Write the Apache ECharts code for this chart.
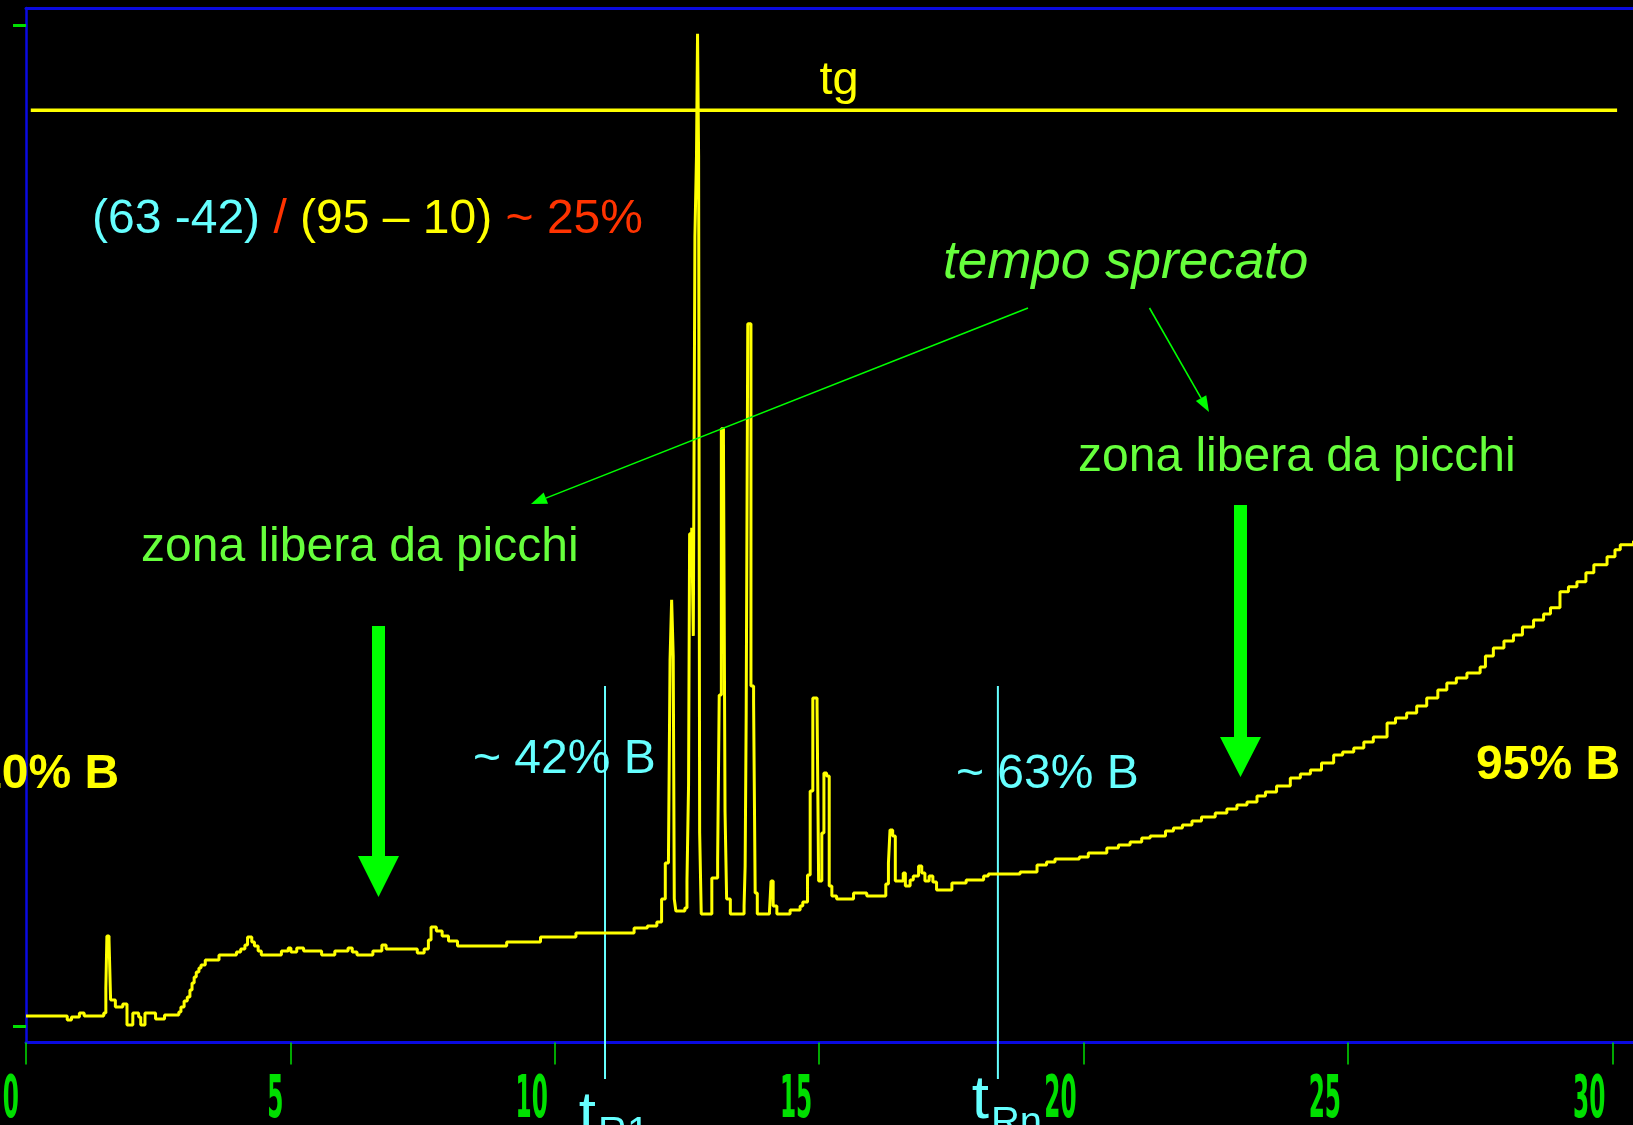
<!DOCTYPE html>
<html>
<head>
<meta charset="utf-8">
<script src="https://cdn.jsdelivr.net/npm/echarts@6.0.0/dist/echarts.min.js"></script>
<style>
  html, body { margin: 0; padding: 0; background: #000; }
  #chart { width: 1633px; height: 1125px; }
</style>
</head>
<body>
<div id="chart"></div>
<script>
// Gradient run chromatogram: detector signal vs. time (min)
const traceTime = [
  0, 0.78, 0.86, 1.01, 1.10, 1.47, 1.51, 1.53, 1.57, 1.60, 1.69, 1.83, 1.91, 2.02, 2.13, 2.17, 2.25, 2.45, 2.62, 2.89,
  2.93, 2.99, 3.05, 3.10, 3.14, 3.18, 3.22, 3.27, 3.31, 3.39, 3.65, 3.98, 4.06, 4.14, 4.19, 4.27, 4.32, 4.39, 4.45, 4.83,
  4.96, 5.01, 5.12, 5.25, 5.59, 5.84, 6.09, 6.17, 6.26, 6.56, 6.73, 6.81, 7.40, 7.53, 7.61, 7.66, 7.76, 7.87, 7.99, 8.16,
  9.09, 9.73, 10.40, 11.50, 11.75, 11.93, 12.02, 12.09, 12.15, 12.18, 12.21, 12.24, 12.26, 12.29, 12.46, 12.50, 12.53, 12.55, 12.59, 12.62,
  12.65, 12.68, 12.70, 12.72, 12.74, 12.77, 12.97, 13.08, 13.11, 13.15, 13.19, 13.22, 13.25, 13.32, 13.58, 13.60, 13.62, 13.65, 13.71, 13.76,
  13.79, 13.83, 14.06, 14.09, 14.13, 14.20, 14.45, 14.64, 14.69, 14.78, 14.83, 14.88, 14.96, 14.99, 15.05, 15.09, 15.14, 15.19, 15.24, 15.33,
  15.65, 15.90, 16.15, 16.26, 16.31, 16.34, 16.39, 16.44, 16.53, 16.59, 16.63, 16.72, 16.78, 16.88, 16.94, 17.00, 17.08, 17.15, 17.22, 17.51,
  17.78, 18.11, 18.20, 18.80, 19.12, 19.30, 19.46, 19.92, 20.09, 20.44, 20.66, 20.88, 21.10, 21.26, 21.55, 21.70, 21.87, 22.05, 22.23, 22.49,
  22.71, 22.90, 23.09, 23.28, 23.44, 23.65, 23.91, 24.10, 24.29, 24.50, 24.73, 24.90, 25.11, 25.30, 25.48, 25.74, 25.90, 26.11, 26.30, 26.49,
  26.70, 26.87, 27.05, 27.25, 27.50, 27.60, 27.75, 27.95, 28.13, 28.30, 28.51, 28.70, 28.83, 29.01, 29.17, 29.33, 29.50, 29.65, 29.90, 30.05,
  30.15, 30.40
];
const traceSignal = [
  1.0, 0.6, 0.9, 1.3, 1.0, 1.3, 3.8, 9.0, 8.6, 2.6, 1.9, 2.2, 0.1, 1.3, 0.9, 0.1, 1.3, 0.7, 1.1, 1.4,
  1.9, 2.5, 2.9, 3.6, 4.3, 4.9, 5.4, 5.8, 6.1, 6.6, 7.1, 7.4, 7.7, 8.1, 8.9, 8.4, 8.0, 7.5, 7.1, 7.5,
  7.8, 7.4, 7.8, 7.5, 7.1, 7.5, 7.8, 7.4, 7.1, 7.5, 8.1, 7.7, 7.3, 7.7, 8.6, 9.9, 9.5, 9.0, 8.5, 8.0,
  8.4, 8.9, 9.3, 9.8, 10.0, 10.4, 12.7, 16.3, 16.8, 36.6, 42.6, 37.0, 12.7, 11.5, 11.8, 14.5, 24.1, 49.2, 49.8, 39.0,
  78.9, 87.0, 99.2, 87.0, 19.3, 11.2, 14.8, 16.6, 33.1, 59.7, 58.5, 21.4, 12.7, 11.2, 12.0, 16.0, 31.3, 70.2, 34.0, 32.4,
  13.3, 11.2, 11.4, 14.5, 12.0, 11.2, 11.6, 12.0, 12.4, 15.1, 23.5, 32.8, 32.0, 14.5, 19.3, 25.3, 25.0, 14.0, 13.0, 12.7,
  13.3, 13.0, 13.0, 14.2, 16.3, 19.6, 19.0, 14.5, 14.5, 15.3, 14.0, 14.6, 15.0, 16.0, 15.3, 14.5, 15.0, 14.4, 13.6, 14.3,
  14.6, 15.0, 15.2, 15.4, 16.1, 16.4, 16.7, 16.9, 17.3, 17.8, 18.1, 18.4, 18.8, 19.0, 19.5, 19.8, 20.1, 20.5, 20.9, 21.3,
  21.7, 22.1, 22.4, 23.0, 23.4, 24.0, 24.8, 25.2, 25.6, 26.3, 27.1, 27.4, 27.8, 28.4, 28.9, 30.3, 30.8, 31.3, 32.0, 32.8,
  33.6, 34.3, 34.8, 35.3, 35.9, 37.0, 37.8, 38.5, 39.1, 39.9, 40.6, 41.2, 41.8, 43.4, 43.9, 44.4, 45.3, 46.1, 46.9, 47.6,
  48.1, 48.5
];

// Axis ticks
const xTickValues = [0, 5, 10, 15, 20, 25, 30];
const xTickLabels = ['0', '5', '10', '15', '20', '25', '30'];
const yTickValues = [0, 100];

// Retention time markers (first and last eluting peak)
const retentionTimes = [10.95, 18.38];
const retentionNames = ['R1', 'Rn'];
const markerSpan = [-5.3, 34.0];

// Gradient time (tg) bar
const gradientSpan = [0.09, 30.09];
const gradientLevel = 91.55;

const TEXT_FONT = '"Liberation Sans", Arial, sans-serif';
const GREEN_TEXT = '#66ff3c';
const CYAN = '#66ffff';
const YELLOW = '#ffff00';
const RED = '#ff3300';
const BLUE = '#0a0ae0';
const TICK_GREEN = '#00e000';

const chart = echarts.init(document.getElementById('chart'), null, { renderer: 'canvas' });

const option = {
  backgroundColor: '#000',
  animation: false,
  grid: { left: 26, right: -10, top: 8, bottom: 82.5, containLabel: false, outerBoundsMode: 'none' },
  xAxis: [
    {
      type: 'value', min: 0, max: 30.58, position: 'bottom',
      axisLine: { onZero: false, lineStyle: { color: BLUE, width: 3 } },
      axisTick: { customValues: xTickValues, length: 22, lineStyle: { color: TICK_GREEN, width: 1.5 } },
      axisLabel: { show: false },
      splitLine: { show: false }
    },
    {
      type: 'value', min: 0, max: 30.58, position: 'top',
      axisLine: { onZero: false, lineStyle: { color: BLUE, width: 3 } },
      axisTick: { show: false }, axisLabel: { show: false }, splitLine: { show: false }
    }
  ],
  yAxis: {
    type: 'value', min: -1.65, max: 101.77,
    axisLine: { onZero: false, lineStyle: { color: BLUE, width: 2.5 } },
    axisTick: { customValues: yTickValues, length: 13, lineStyle: { color: TICK_GREEN, width: 3 } },
    axisLabel: { show: false },
    splitLine: { show: false }
  },
  series: [
    {
      name: 'signal', type: 'line', step: 'end', symbol: 'none', z: 4,
      data: traceTime.map((t, i) => [t, traceSignal[i]]),
      lineStyle: { color: YELLOW, width: 3 }
    },
    {
      name: 'tg', type: 'line', symbol: 'none', z: 3,
      data: gradientSpan.map(t => [t, gradientLevel]),
      lineStyle: { color: YELLOW, width: 3.5 }
    }
  ].concat(retentionTimes.map((t, i) => ({
    name: 't' + retentionNames[i], type: 'line', symbol: 'none', clip: false, z: 2,
    data: markerSpan.map(v => [t, v]),
    lineStyle: { color: CYAN, width: 2 }
  })))
};

chart.setOption(option);

// Annotation helpers
function arrowLine(x1, y1, x2, y2, color) {
  const dx = x2 - x1, dy = y2 - y1, len = Math.hypot(dx, dy);
  const ux = dx / len, uy = dy / len, head = 16, half = 6;
  const bx = x2 - ux * head, by = y2 - uy * head;
  return [
    { type: 'line', shape: { x1, y1, x2: bx, y2: by }, style: { stroke: color, lineWidth: 1.6 }, z: 20 },
    { type: 'polygon', shape: { points: [[x2, y2], [bx - uy * half, by + ux * half], [bx + uy * half, by - ux * half]] },
      style: { fill: color }, z: 20 }
  ];
}
function blockArrow(cx, top, headTop, tip, shaftHalf, headHalf, color) {
  return {
    type: 'polygon', z: 20,
    shape: { points: [[cx - shaftHalf, top], [cx + shaftHalf, top], [cx + shaftHalf, headTop], [cx + headHalf, headTop],
      [cx, tip], [cx - headHalf, headTop], [cx - shaftHalf, headTop]] },
    style: { fill: color }
  };
}
function label(text, x, y, size, color, extra) {
  return {
    type: 'text', x, y, z: 30,
    style: Object.assign({ text, fill: color, font: size + 'px ' + TEXT_FONT, align: 'left', verticalAlign: 'middle' }, extra || {})
  };
}

const elements = [];

// Tick labels in a narrow, tall style
xTickValues.forEach((v, i) => {
  const px = chart.convertToPixel({ xAxisIndex: 0 }, v);
  elements.push({
    type: 'text', x: px - 7, y: 1102, scaleX: 0.40, z: 30,
    style: { text: xTickLabels[i], fill: TICK_GREEN, font: 'bold 58px "DejaVu Sans", sans-serif', align: 'right', verticalAlign: 'middle' }
  });
});

// t_R labels under the retention markers
const tTop = [1148, 1132];
const subBottom = [1154, 1144];
retentionTimes.forEach((t, i) => {
  const px = chart.convertToPixel({ xAxisIndex: 0 }, t);
  elements.push({ type: 'text', x: px - 9, y: tTop[i], z: 30,
    style: { text: 't', fill: CYAN, font: '62px ' + TEXT_FONT, align: 'right', verticalAlign: 'bottom' } });
  elements.push({ type: 'text', x: px - 7, y: subBottom[i], z: 30,
    style: { text: retentionNames[i], fill: CYAN, font: '40px ' + TEXT_FONT, align: 'left', verticalAlign: 'bottom' } });
});

// Texts
elements.push(label('tg', 839, 81, 47, YELLOW, { align: 'center' }));
elements.push({
  type: 'text', x: 92, y: 219.5, z: 30,
  style: {
    text: '{c|(63 -42)}{r| / }{y|(95 – 10)}{r| ~ 25%}',
    verticalAlign: 'middle', align: 'left',
    rich: {
      c: { fill: CYAN, fontSize: 48, fontFamily: TEXT_FONT },
      r: { fill: RED, fontSize: 48, fontFamily: TEXT_FONT },
      y: { fill: YELLOW, fontSize: 48, fontFamily: TEXT_FONT }
    }
  }
});
elements.push(label('tempo sprecato', 943, 263, 53, GREEN_TEXT, { font: 'italic 53px ' + TEXT_FONT }));
elements.push(label('zona libera da picchi', 141, 547.5, 48, GREEN_TEXT));
elements.push(label('zona libera da picchi', 1078, 457.5, 48, GREEN_TEXT));
elements.push(label('10% B', -25, 774.5, 48, YELLOW, { font: 'bold 48px ' + TEXT_FONT }));
elements.push(label('95% B', 1476, 765.5, 48, YELLOW, { font: 'bold 48px ' + TEXT_FONT }));
elements.push(label('~ 42% B', 473, 760, 48, CYAN));
elements.push(label('~ 63% B', 956, 774.5, 48, CYAN));

// Pointers from "tempo sprecato" to the two peak-free zones
elements.push(...arrowLine(1028, 308, 531, 504, '#00ff00'));
elements.push(...arrowLine(1149.5, 308, 1209, 412, '#00ff00'));

// Thick arrows marking the peak-free zones
elements.push(blockArrow(378.5, 626, 856, 897, 6.5, 20.5, '#00ff00'));
elements.push(blockArrow(1240.5, 505, 737, 777, 6.5, 20.5, '#00ff00'));

chart.setOption({ graphic: { elements } });
</script>
</body>
</html>
